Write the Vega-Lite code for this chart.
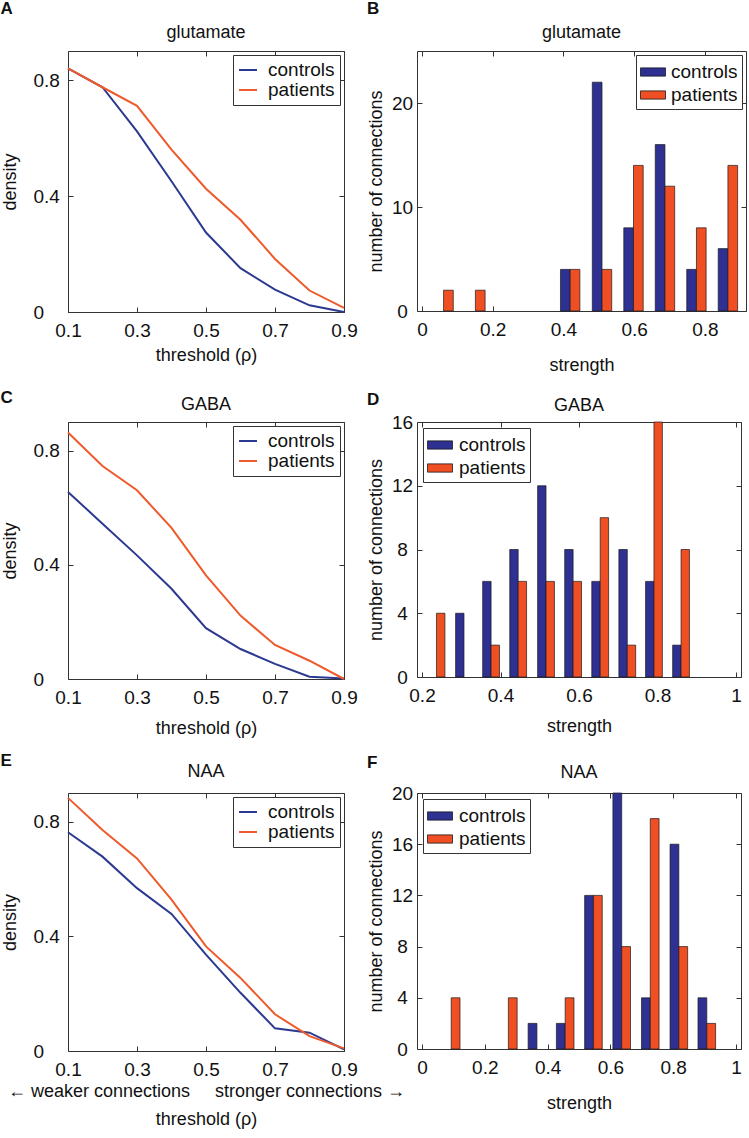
{
  "$schema": "https://vega.github.io/schema/vega-lite/v6.json",
  "padding": {"left": 0, "top": 0, "right": 0, "bottom": 0},
  "config": {
    "font": "Liberation Sans",
    "view": {"stroke": "#333333", "strokeWidth": 1},
    "axis": {"domain": false, "grid": false, "ticks": true, "tickSize": -5, "tickColor": "#333333", "labelFont": "Liberation Sans", "labelFontSize": 19, "labelColor": "#111111", "titleFont": "Liberation Sans", "titleFontSize": 18, "titleFontWeight": "normal", "titleColor": "#111111", "labelPadding": 14, "labelFlush": false, "labelOverlap": false},
    "title": {"font": "Liberation Sans", "fontSize": 18, "fontWeight": "normal", "color": "#111111", "offset": 11, "frame": "group"},
    "legend": {"labelFont": "Liberation Sans", "labelFontSize": 19, "labelColor": "#111111", "strokeColor": "#333333", "padding": 5, "rowPadding": 0, "fillColor": "white", "title": null, "offset": 4},
    "concat": {"spacing": 8}
  },
  "resolve": {"scale": {"color": "independent"}, "legend": {"color": "independent"}},
  "spacing": 14,
  "datasets": {
    "gluLine": [
      {"threshold": 0.1, "group": "controls", "density": 0.84},
      {"threshold": 0.2, "group": "controls", "density": 0.775},
      {"threshold": 0.3, "group": "controls", "density": 0.623},
      {"threshold": 0.4, "group": "controls", "density": 0.451},
      {"threshold": 0.5, "group": "controls", "density": 0.274},
      {"threshold": 0.6, "group": "controls", "density": 0.151},
      {"threshold": 0.7, "group": "controls", "density": 0.077},
      {"threshold": 0.8, "group": "controls", "density": 0.023},
      {"threshold": 0.9, "group": "controls", "density": 0.0},
      {"threshold": 0.1, "group": "patients", "density": 0.84},
      {"threshold": 0.2, "group": "patients", "density": 0.775},
      {"threshold": 0.3, "group": "patients", "density": 0.711},
      {"threshold": 0.4, "group": "patients", "density": 0.56},
      {"threshold": 0.5, "group": "patients", "density": 0.425},
      {"threshold": 0.6, "group": "patients", "density": 0.318},
      {"threshold": 0.7, "group": "patients", "density": 0.183},
      {"threshold": 0.8, "group": "patients", "density": 0.074},
      {"threshold": 0.9, "group": "patients", "density": 0.014}
    ],
    "gabaLine": [
      {"threshold": 0.1, "group": "controls", "density": 0.655},
      {"threshold": 0.2, "group": "controls", "density": 0.544},
      {"threshold": 0.3, "group": "controls", "density": 0.433},
      {"threshold": 0.4, "group": "controls", "density": 0.316},
      {"threshold": 0.5, "group": "controls", "density": 0.178},
      {"threshold": 0.6, "group": "controls", "density": 0.105},
      {"threshold": 0.7, "group": "controls", "density": 0.053},
      {"threshold": 0.8, "group": "controls", "density": 0.008},
      {"threshold": 0.9, "group": "controls", "density": 0.002},
      {"threshold": 0.1, "group": "patients", "density": 0.863},
      {"threshold": 0.2, "group": "patients", "density": 0.746},
      {"threshold": 0.3, "group": "patients", "density": 0.661},
      {"threshold": 0.4, "group": "patients", "density": 0.529},
      {"threshold": 0.5, "group": "patients", "density": 0.363},
      {"threshold": 0.6, "group": "patients", "density": 0.222},
      {"threshold": 0.7, "group": "patients", "density": 0.119},
      {"threshold": 0.8, "group": "patients", "density": 0.064},
      {"threshold": 0.9, "group": "patients", "density": 0.0}
    ],
    "naaLine": [
      {"threshold": 0.1, "group": "controls", "density": 0.763},
      {"threshold": 0.2, "group": "controls", "density": 0.678},
      {"threshold": 0.3, "group": "controls", "density": 0.568},
      {"threshold": 0.4, "group": "controls", "density": 0.478},
      {"threshold": 0.5, "group": "controls", "density": 0.336},
      {"threshold": 0.6, "group": "controls", "density": 0.203},
      {"threshold": 0.7, "group": "controls", "density": 0.079},
      {"threshold": 0.8, "group": "controls", "density": 0.064},
      {"threshold": 0.9, "group": "controls", "density": 0.006},
      {"threshold": 0.1, "group": "patients", "density": 0.883},
      {"threshold": 0.2, "group": "patients", "density": 0.771},
      {"threshold": 0.3, "group": "patients", "density": 0.672},
      {"threshold": 0.4, "group": "patients", "density": 0.528},
      {"threshold": 0.5, "group": "patients", "density": 0.365},
      {"threshold": 0.6, "group": "patients", "density": 0.255},
      {"threshold": 0.7, "group": "patients", "density": 0.128},
      {"threshold": 0.8, "group": "patients", "density": 0.052},
      {"threshold": 0.9, "group": "patients", "density": 0.009}
    ],
    "gluBar": [
      {"strength": 0.419, "group": "controls", "count": 4},
      {"strength": 0.509, "group": "controls", "count": 22},
      {"strength": 0.598, "group": "controls", "count": 8},
      {"strength": 0.687, "group": "controls", "count": 16},
      {"strength": 0.776, "group": "controls", "count": 4},
      {"strength": 0.865, "group": "controls", "count": 6},
      {"strength": 0.061, "group": "patients", "count": 2},
      {"strength": 0.151, "group": "patients", "count": 2},
      {"strength": 0.419, "group": "patients", "count": 4},
      {"strength": 0.509, "group": "patients", "count": 4},
      {"strength": 0.598, "group": "patients", "count": 14},
      {"strength": 0.687, "group": "patients", "count": 12},
      {"strength": 0.776, "group": "patients", "count": 8},
      {"strength": 0.865, "group": "patients", "count": 14}
    ],
    "gabaBar": [
      {"strength": 0.307, "group": "controls", "count": 4},
      {"strength": 0.376, "group": "controls", "count": 6},
      {"strength": 0.445, "group": "controls", "count": 8},
      {"strength": 0.516, "group": "controls", "count": 12},
      {"strength": 0.585, "group": "controls", "count": 8},
      {"strength": 0.654, "group": "controls", "count": 6},
      {"strength": 0.723, "group": "controls", "count": 8},
      {"strength": 0.791, "group": "controls", "count": 6},
      {"strength": 0.86, "group": "controls", "count": 2},
      {"strength": 0.237, "group": "patients", "count": 4},
      {"strength": 0.376, "group": "patients", "count": 2},
      {"strength": 0.445, "group": "patients", "count": 6},
      {"strength": 0.516, "group": "patients", "count": 6},
      {"strength": 0.585, "group": "patients", "count": 6},
      {"strength": 0.654, "group": "patients", "count": 10},
      {"strength": 0.723, "group": "patients", "count": 2},
      {"strength": 0.791, "group": "patients", "count": 16},
      {"strength": 0.86, "group": "patients", "count": 8}
    ],
    "naaBar": [
      {"strength": 0.366, "group": "controls", "count": 2},
      {"strength": 0.456, "group": "controls", "count": 2},
      {"strength": 0.546, "group": "controls", "count": 12},
      {"strength": 0.636, "group": "controls", "count": 20},
      {"strength": 0.727, "group": "controls", "count": 4},
      {"strength": 0.818, "group": "controls", "count": 16},
      {"strength": 0.907, "group": "controls", "count": 4},
      {"strength": 0.093, "group": "patients", "count": 4},
      {"strength": 0.275, "group": "patients", "count": 4},
      {"strength": 0.456, "group": "patients", "count": 4},
      {"strength": 0.546, "group": "patients", "count": 12},
      {"strength": 0.636, "group": "patients", "count": 8},
      {"strength": 0.727, "group": "patients", "count": 18},
      {"strength": 0.818, "group": "patients", "count": 8},
      {"strength": 0.907, "group": "patients", "count": 2}
    ]
  },
  "vconcat": [
    {
      "resolve": {"scale": {"color": "independent"}, "legend": {"color": "independent"}},
      "hconcat": [
        {
          "resolve": {"scale": {"color": "independent"}, "legend": {"color": "independent"}},
          "title": {"text": "A", "anchor": "start", "frame": "bounds", "fontWeight": "bold", "fontSize": 17, "offset": 5},
          "vconcat": [
            {
              "title": {"text": "glutamate", "offset": 9},
              "width": 276, "height": 261,
              "data": {"name": "gluLine"},
              "resolve": {"axis": {"x": "independent", "y": "independent"}},
              "layer": [
                {
                  "mark": {"type": "line", "strokeWidth": 2},
                  "encoding": {
                    "x": {"field": "threshold", "type": "quantitative", "scale": {"domain": [0.1, 0.9], "nice": false}, "axis": {"values": [0.1, 0.3, 0.5, 0.7, 0.9], "format": "~g", "title": "threshold (ρ)", "titlePadding": 6}},
                    "y": {"field": "density", "type": "quantitative", "scale": {"domain": [0, 0.9], "nice": false}, "axis": {"values": [0, 0.4, 0.8], "format": "~g", "title": "density", "labelAlign": "left", "labelPadding": 40, "titlePadding": 14}},
                    "color": {"field": "group", "type": "nominal", "scale": {"domain": ["controls", "patients"], "range": ["#2b3990", "#ee5a2b"]}, "legend": {"orient": "top-right", "symbolType": "stroke", "symbolSize": 324, "symbolStrokeWidth": 2, "labelOffset": 10}}
                  }
                },
                {
                  "mark": {"type": "point", "opacity": 0},
                  "encoding": {
                    "x": {"field": "threshold", "type": "quantitative", "scale": {"domain": [0.1, 0.9], "nice": false}, "axis": {"orient": "top", "values": [0.1, 0.3, 0.5, 0.7, 0.9], "labels": false, "title": null}},
                    "y": {"field": "density", "type": "quantitative", "scale": {"domain": [0, 0.9], "nice": false}, "axis": {"orient": "right", "values": [0, 0.4, 0.8], "labels": false, "title": null}}
                  }
                }
              ]
            }
          ]
        },
        {
          "resolve": {"scale": {"color": "independent"}, "legend": {"color": "independent"}},
          "title": {"text": "B", "anchor": "start", "frame": "bounds", "fontWeight": "bold", "fontSize": 17, "offset": 5},
          "vconcat": [
            {
              "title": {"text": "glutamate", "offset": 9},
              "width": 329, "height": 260,
              "data": {"name": "gluBar"},
              "resolve": {"axis": {"x": "independent", "y": "independent"}},
              "layer": [
                {
                  "transform": [{"filter": "datum.group === 'controls'"}],
                  "mark": {"type": "bar", "width": 9.7, "xOffset": -4.85, "stroke": "#1a1a1a", "strokeWidth": 0.7, "opacity": 1},
                  "encoding": {
                    "x": {"field": "strength", "type": "quantitative", "scale": {"domain": [0, 0.902], "nice": false}, "axis": {"values": [0, 0.2, 0.4, 0.6, 0.8], "format": "~g", "title": "strength", "titlePadding": 17}},
                    "y": {"field": "count", "type": "quantitative", "scale": {"domain": [0, 25], "nice": false}, "axis": {"values": [0, 10, 20], "title": "number of connections", "labelAlign": "center", "labelPadding": 20, "titlePadding": 6}},
                    "color": {"field": "group", "type": "nominal", "scale": {"domain": ["controls", "patients"], "range": ["#2e3192", "#f04e23"]}, "legend": {"orient": "top-right", "symbolType": "M-1,-0.33H1V0.33H-1Z", "symbolSize": 625, "symbolStrokeColor": "#111111", "symbolStrokeWidth": 0.8, "symbolOpacity": 1, "labelOffset": 5, "padding": 4}}
                  }
                },
                {
                  "transform": [{"filter": "datum.group === 'patients'"}],
                  "mark": {"type": "bar", "width": 9.7, "xOffset": 4.85, "stroke": "#1a1a1a", "strokeWidth": 0.7, "opacity": 1},
                  "encoding": {
                    "x": {"field": "strength", "type": "quantitative", "scale": {"domain": [0, 0.902], "nice": false}, "axis": null},
                    "y": {"field": "count", "type": "quantitative", "scale": {"domain": [0, 25], "nice": false}, "axis": null},
                    "color": {"field": "group", "type": "nominal", "scale": {"domain": ["controls", "patients"], "range": ["#2e3192", "#f04e23"]}}
                  }
                },
                {
                  "mark": {"type": "point", "opacity": 0},
                  "encoding": {
                    "x": {"field": "strength", "type": "quantitative", "scale": {"domain": [0, 0.902], "nice": false}, "axis": {"orient": "top", "values": [0, 0.2, 0.4, 0.6, 0.8], "labels": false, "title": null}},
                    "y": {"field": "count", "type": "quantitative", "scale": {"domain": [0, 25], "nice": false}, "axis": {"orient": "right", "values": [0, 10, 20], "labels": false, "title": null}}
                  }
                }
              ]
            }
          ]
        }
      ]
    },
    {
      "resolve": {"scale": {"color": "independent"}, "legend": {"color": "independent"}},
      "hconcat": [
        {
          "resolve": {"scale": {"color": "independent"}, "legend": {"color": "independent"}},
          "title": {"text": "C", "anchor": "start", "frame": "bounds", "fontWeight": "bold", "fontSize": 17, "offset": -12},
          "vconcat": [
            {
              "title": {"text": "GABA", "offset": 8},
              "width": 276, "height": 257,
              "data": {"name": "gabaLine"},
              "resolve": {"axis": {"x": "independent", "y": "independent"}},
              "layer": [
                {
                  "mark": {"type": "line", "strokeWidth": 2},
                  "encoding": {
                    "x": {"field": "threshold", "type": "quantitative", "scale": {"domain": [0.1, 0.9], "nice": false}, "axis": {"values": [0.1, 0.3, 0.5, 0.7, 0.9], "format": "~g", "title": "threshold (ρ)", "titlePadding": 12}},
                    "y": {"field": "density", "type": "quantitative", "scale": {"domain": [0, 0.9], "nice": false}, "axis": {"values": [0, 0.4, 0.8], "format": "~g", "title": "density", "labelAlign": "left", "labelPadding": 40, "titlePadding": 14}},
                    "color": {"field": "group", "type": "nominal", "scale": {"domain": ["controls", "patients"], "range": ["#2b3990", "#ee5a2b"]}, "legend": {"orient": "top-right", "symbolType": "stroke", "symbolSize": 324, "symbolStrokeWidth": 2, "labelOffset": 10}}
                  }
                },
                {
                  "mark": {"type": "point", "opacity": 0},
                  "encoding": {
                    "x": {"field": "threshold", "type": "quantitative", "scale": {"domain": [0.1, 0.9], "nice": false}, "axis": {"orient": "top", "values": [0.1, 0.3, 0.5, 0.7, 0.9], "labels": false, "title": null}},
                    "y": {"field": "density", "type": "quantitative", "scale": {"domain": [0, 0.9], "nice": false}, "axis": {"orient": "right", "values": [0, 0.4, 0.8], "labels": false, "title": null}}
                  }
                }
              ]
            }
          ]
        },
        {
          "resolve": {"scale": {"color": "independent"}, "legend": {"color": "independent"}},
          "title": {"text": "D", "anchor": "start", "frame": "bounds", "fontWeight": "bold", "fontSize": 17, "offset": -12},
          "vconcat": [
            {
              "title": {"text": "GABA", "offset": -2},
              "width": 324, "height": 255,
              "data": {"name": "gabaBar"},
              "resolve": {"axis": {"x": "independent", "y": "independent"}},
              "layer": [
                {
                  "transform": [{"filter": "datum.group === 'controls'"}],
                  "mark": {"type": "bar", "width": 8.4, "xOffset": -4.2, "stroke": "#1a1a1a", "strokeWidth": 0.7, "opacity": 1},
                  "encoding": {
                    "x": {"field": "strength", "type": "quantitative", "scale": {"domain": [0.2, 1], "nice": false}, "axis": {"values": [0.2, 0.4, 0.6, 0.8, 1], "format": "~g", "title": "strength", "titlePadding": 12}},
                    "y": {"field": "count", "type": "quantitative", "scale": {"domain": [0, 16], "nice": false}, "axis": {"values": [0, 4, 8, 12, 16], "title": "number of connections", "labelAlign": "center", "labelPadding": 20, "titlePadding": 6}},
                    "color": {"field": "group", "type": "nominal", "scale": {"domain": ["controls", "patients"], "range": ["#2e3192", "#f04e23"]}, "legend": {"orient": "top-left", "symbolType": "M-1,-0.33H1V0.33H-1Z", "symbolSize": 625, "symbolStrokeColor": "#111111", "symbolStrokeWidth": 0.8, "symbolOpacity": 1, "labelOffset": 6, "padding": 4, "offset": 6}}
                  }
                },
                {
                  "transform": [{"filter": "datum.group === 'patients'"}],
                  "mark": {"type": "bar", "width": 8.4, "xOffset": 4.2, "stroke": "#1a1a1a", "strokeWidth": 0.7, "opacity": 1},
                  "encoding": {
                    "x": {"field": "strength", "type": "quantitative", "scale": {"domain": [0.2, 1], "nice": false}, "axis": null},
                    "y": {"field": "count", "type": "quantitative", "scale": {"domain": [0, 16], "nice": false}, "axis": null},
                    "color": {"field": "group", "type": "nominal", "scale": {"domain": ["controls", "patients"], "range": ["#2e3192", "#f04e23"]}}
                  }
                },
                {
                  "mark": {"type": "point", "opacity": 0},
                  "encoding": {
                    "x": {"field": "strength", "type": "quantitative", "scale": {"domain": [0.2, 1], "nice": false}, "axis": {"orient": "top", "values": [0.2, 0.4, 0.6, 0.8, 1], "labels": false, "title": null}},
                    "y": {"field": "count", "type": "quantitative", "scale": {"domain": [0, 16], "nice": false}, "axis": {"orient": "right", "values": [0, 4, 8, 12, 16], "labels": false, "title": null}}
                  }
                }
              ]
            }
          ]
        }
      ]
    },
    {
      "resolve": {"scale": {"color": "independent"}, "legend": {"color": "independent"}},
      "spacing": -40,
      "hconcat": [
        {
          "resolve": {"scale": {"color": "independent"}, "legend": {"color": "independent"}},
          "title": {"text": "E", "anchor": "start", "frame": "bounds", "fontWeight": "bold", "fontSize": 17, "offset": -8},
          "vconcat": [
            {
              "title": {"text": "NAA", "offset": 12},
              "width": 276, "height": 258,
              "data": {"name": "naaLine"},
              "resolve": {"axis": {"x": "independent", "y": "independent"}},
              "layer": [
                {
                  "mark": {"type": "line", "strokeWidth": 2},
                  "encoding": {
                    "x": {"field": "threshold", "type": "quantitative", "scale": {"domain": [0.1, 0.9], "nice": false}, "axis": {"values": [0.1, 0.3, 0.5, 0.7, 0.9], "format": "~g", "title": ["← weaker connections\u00a0\u00a0\u00a0\u00a0\u00a0stronger connections →", "threshold (ρ)"], "titleLineHeight": 28, "titlePadding": 3}},
                    "y": {"field": "density", "type": "quantitative", "scale": {"domain": [0, 0.9], "nice": false}, "axis": {"values": [0, 0.4, 0.8], "format": "~g", "title": "density", "labelAlign": "left", "labelPadding": 40, "titlePadding": 14}},
                    "color": {"field": "group", "type": "nominal", "scale": {"domain": ["controls", "patients"], "range": ["#2b3990", "#ee5a2b"]}, "legend": {"orient": "top-right", "symbolType": "stroke", "symbolSize": 324, "symbolStrokeWidth": 2, "labelOffset": 10}}
                  }
                },
                {
                  "mark": {"type": "point", "opacity": 0},
                  "encoding": {
                    "x": {"field": "threshold", "type": "quantitative", "scale": {"domain": [0.1, 0.9], "nice": false}, "axis": {"orient": "top", "values": [0.1, 0.3, 0.5, 0.7, 0.9], "labels": false, "title": null}},
                    "y": {"field": "density", "type": "quantitative", "scale": {"domain": [0, 0.9], "nice": false}, "axis": {"orient": "right", "values": [0, 0.4, 0.8], "labels": false, "title": null}}
                  }
                }
              ]
            }
          ]
        },
        {
          "resolve": {"scale": {"color": "independent"}, "legend": {"color": "independent"}},
          "title": {"text": "F", "anchor": "start", "frame": "bounds", "fontWeight": "bold", "fontSize": 17, "offset": -8},
          "vconcat": [
            {
              "title": {"text": "NAA", "offset": 2},
              "width": 324, "height": 256,
              "data": {"name": "naaBar"},
              "resolve": {"axis": {"x": "independent", "y": "independent"}},
              "layer": [
                {
                  "transform": [{"filter": "datum.group === 'controls'"}],
                  "mark": {"type": "bar", "width": 8.8, "xOffset": -4.4, "stroke": "#1a1a1a", "strokeWidth": 0.7, "opacity": 1},
                  "encoding": {
                    "x": {"field": "strength", "type": "quantitative", "scale": {"domain": [0, 1], "nice": false}, "axis": {"values": [0, 0.2, 0.4, 0.6, 0.8, 1], "format": "~g", "title": "strength", "titlePadding": 17}},
                    "y": {"field": "count", "type": "quantitative", "scale": {"domain": [0, 20], "nice": false}, "axis": {"values": [0, 4, 8, 12, 16, 20], "title": "number of connections", "labelAlign": "center", "labelPadding": 20, "titlePadding": 6}},
                    "color": {"field": "group", "type": "nominal", "scale": {"domain": ["controls", "patients"], "range": ["#2e3192", "#f04e23"]}, "legend": {"orient": "top-left", "symbolType": "M-1,-0.33H1V0.33H-1Z", "symbolSize": 625, "symbolStrokeColor": "#111111", "symbolStrokeWidth": 0.8, "symbolOpacity": 1, "labelOffset": 6, "padding": 4, "offset": 6}}
                  }
                },
                {
                  "transform": [{"filter": "datum.group === 'patients'"}],
                  "mark": {"type": "bar", "width": 8.8, "xOffset": 4.4, "stroke": "#1a1a1a", "strokeWidth": 0.7, "opacity": 1},
                  "encoding": {
                    "x": {"field": "strength", "type": "quantitative", "scale": {"domain": [0, 1], "nice": false}, "axis": null},
                    "y": {"field": "count", "type": "quantitative", "scale": {"domain": [0, 20], "nice": false}, "axis": null},
                    "color": {"field": "group", "type": "nominal", "scale": {"domain": ["controls", "patients"], "range": ["#2e3192", "#f04e23"]}}
                  }
                },
                {
                  "mark": {"type": "point", "opacity": 0},
                  "encoding": {
                    "x": {"field": "strength", "type": "quantitative", "scale": {"domain": [0, 1], "nice": false}, "axis": {"orient": "top", "values": [0, 0.2, 0.4, 0.6, 0.8, 1], "labels": false, "title": null}},
                    "y": {"field": "count", "type": "quantitative", "scale": {"domain": [0, 20], "nice": false}, "axis": {"orient": "right", "values": [0, 4, 8, 12, 16, 20], "labels": false, "title": null}}
                  }
                }
              ]
            }
          ]
        }
      ]
    }
  ]
}
